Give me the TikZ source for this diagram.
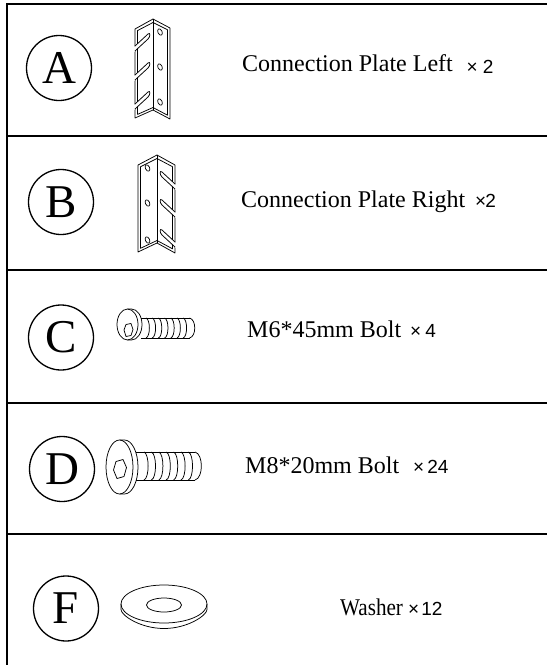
\documentclass[tikz,border=0pt]{standalone}
\usepackage{fontspec}
\usepackage{graphicx}
\setmainfont{Liberation Serif}
\setsansfont{Liberation Sans}
\begin{document}
\begin{tikzpicture}[x=1pt,y=-1pt,
  frame/.style={line width=1.8pt},
  badge/.style={circle,draw,line width=1.3pt,minimum size=65pt,inner sep=0pt,font=\fontsize{47}{50}\selectfont},
  lbl/.style={inner sep=0pt,anchor=base west,font=\fontsize{24}{28}\selectfont},
  cnt/.style={inner sep=0pt,anchor=base west,font=\sffamily\fontsize{19}{22}\selectfont},
  part/.style={line width=0.75pt,line join=round},
  hole/.style={line width=0.7pt}]
\useasboundingbox (0,0) rectangle (547,665);
% frame
\draw[frame] (547,4) -- (7,4) -- (7,665);
\foreach \yy in {136,270,403,534} \draw[frame] (7,\yy) -- (547,\yy);
% badges
\node[badge] (cA) at (59,68) {A};
\node[badge] (cB) at (61,202) {B};
\node[badge] (cC) at (61,337.5) {C};
\node[badge] (cD) at (62,469) {D};
\node[badge] (cF) at (66,608.5) {F};
% labels
\node[lbl] (tA) at (242,71) {Connection Plate Left};
\node[cnt] (nA) at (466.5,73) {×\hspace{5pt}2};
\node[lbl] (tB) at (241,207) {Connection Plate Right};
\node[cnt] (nB) at (475,207) {×\hspace{-1pt}2};
\node[lbl] (tC) at (247,337) {M6*45mm Bolt};
\node[cnt] (nC) at (410,337) {×\hspace{4pt}4};
\node[lbl] (tD) at (245,473) {M8*20mm Bolt};
\node[cnt] (nD) at (413,473) {×\hspace{3pt}24};
\node[lbl] (tF) at (340,615) {\scalebox{0.88}[1]{Washer}};
\node[cnt] (nF) at (408,615) {×\hspace{2pt}12};
% ---------- plate A (left) ----------
\draw[part] (153,19) -- (135,29) -- (135,118) -- (153,110) -- (170,119) -- (170,28) -- cycle;
\draw[part] (153,19) -- (153,110);
\draw[part] (153,22.5) -- (137.5,30.6) -- (137.5,114.4) -- (153,107.5) -- (167.5,115.2) -- (167.5,29.7) -- cycle;
\foreach \yo in {46,75,104} {
  \fill[white] (133.8,{\yo+1.2}) -- (148,{\yo-12}) -- (151,{\yo-10}) -- (148,{\yo-7}) -- (133.8,{\yo+6.2}) -- cycle;
  \draw[part] (135,\yo) -- (148,{\yo-12}) .. controls (150.5,{\yo-14.3}) and (150.5,{\yo-9.3}) .. (148,{\yo-7}) -- (135,{\yo+5});
}
\foreach \yo in {32,67,102}
  \draw[hole,rotate around={25:(160,\yo)}] (160,\yo) ellipse [x radius=2.1,y radius=3.4];
% ---------- plate B (right) ----------
\draw[part] (157,155) -- (138,165) -- (138,252) -- (157,243) -- (175,253) -- (175,165) -- cycle;
\draw[part] (157,155) -- (157,243);
\draw[part] (157,158.5) -- (140.5,166.7) -- (140.5,248.3) -- (157,240.5) -- (172.5,248.8) -- (172.5,166.7) -- cycle;
\foreach \yo in {184,212,242} {
  \fill[white] (176.2,{\yo+1.2}) -- (162,{\yo-12}) -- (159,{\yo-10}) -- (162,{\yo-7}) -- (176.2,{\yo+6.2}) -- cycle;
  \draw[part] (175,\yo) -- (162,{\yo-12}) .. controls (159.5,{\yo-14.3}) and (159.5,{\yo-9.3}) .. (162,{\yo-7}) -- (175,{\yo+5});
}
\foreach \yo in {168,203,240}
  \draw[hole,rotate around={25:(147.5,\yo)}] (147.5,\yo) ellipse [x radius=2.1,y radius=3.4];
% ---------- bolt C ----------
\draw[part] (127.5,324.5) ellipse [x radius=10.5,y radius=15.5];
\draw[part] (127.5,309) -- (131.5,309) .. controls (137.3,309) and (142,315.9) .. (142,324.5)
  .. controls (142,333.1) and (137.3,340) .. (131.5,340) -- (127.5,340);
\draw[part] (124,330) -- (126,324.5) -- (131,323.5) -- (133,329.5) -- (131,335.5) -- (126,336.5) -- cycle;
\draw[part] (141,318) -- (189.5,318);
\draw[part] (141,338) -- (189.5,338);
\foreach \i in {0,...,6}
  \draw[part] ({146+6.2*\i},318) .. controls ({150.5+6.2*\i},319.5) and ({150.5+6.2*\i},336.5) .. ({146+6.2*\i},338);
\draw[part] (189.5,318) .. controls (196.5,319.5) and (196.5,336.5) .. (189.5,338);
% ---------- bolt D ----------
\draw[part] (119.5,467) ellipse [x radius=13.5,y radius=27];
\draw[part] (119.5,440) -- (124.5,440) .. controls (132,440) and (138,452.1) .. (138,467)
  .. controls (138,481.9) and (132,494) .. (124.5,494) -- (119.5,494);
\draw[part] (113.5,470) -- (116,461.5) -- (123,459.5) -- (126.5,467.5) -- (124,476.5) -- (117,478.5) -- cycle;
\draw[part] (136,452) -- (195,452);
\draw[part] (136,480) -- (195,480);
\foreach \i in {0,...,6}
  \draw[part] ({144+7.4*\i},452) .. controls ({149.5+7.4*\i},454) and ({149.5+7.4*\i},478) .. ({144+7.4*\i},480);
\draw[part] (195,452) .. controls (203.5,454) and (203.5,478) .. (195,480);
% ---------- washer ----------
\draw[part] (121,604) -- (121,609.5) .. controls (121,615.3) and (140.3,628.5) .. (164,628.5)
  .. controls (187.7,628.5) and (207,615.3) .. (207,609.5) -- (207,604);
\draw[part] (164,604) ellipse [x radius=43,y radius=19];
\draw[part] (164,605) ellipse [x radius=17.5,y radius=7];
\end{tikzpicture}
\end{document}
